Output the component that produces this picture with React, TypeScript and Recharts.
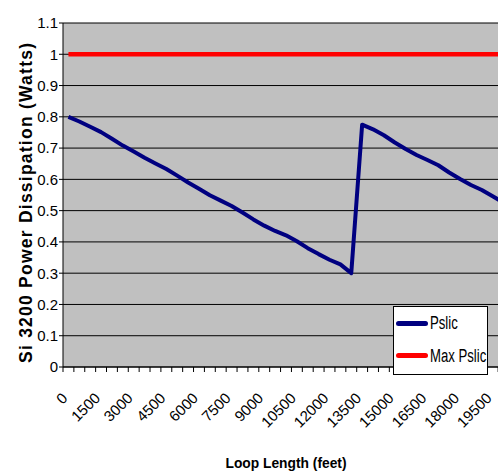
import React from 'react';
import { LineChart, Line, XAxis, YAxis, CartesianGrid, Legend } from 'recharts';

// loop length categories (feet), one every 500 ft
const LOOP_LENGTHS = [
  0, 500, 1000, 1500, 2000, 2500, 3000, 3500, 4000, 4500, 5000, 5500, 6000, 6500,
  7000, 7500, 8000, 8500, 9000, 9500, 10000, 10500, 11000, 11500, 12000, 12500,
  13000, 13500, 14000, 14500, 15000, 15500, 16000, 16500, 17000, 17500, 18000,
  18500, 19000, 19500, 20000,
];

// Si 3200 power dissipation (W)
const PSLIC = [
  0.8, 0.785, 0.768, 0.751, 0.73, 0.708, 0.689, 0.669, 0.651, 0.633, 0.612, 0.59,
  0.57, 0.549, 0.532, 0.515, 0.494, 0.472, 0.452, 0.435, 0.421, 0.402, 0.38, 0.361,
  0.343, 0.328, 0.3, 0.775, 0.76, 0.741, 0.718, 0.697, 0.678, 0.662, 0.645, 0.622,
  0.601, 0.582, 0.566, 0.546, 0.525,
];

const MAX_PSLIC = 1;

const X_LABELS = [
  0, 1500, 3000, 4500, 6000, 7500, 9000, 10500, 12000, 13500, 15000, 16500, 18000, 19500,
];

const Y_TICKS = [0, 0.1, 0.2, 0.3, 0.4, 0.5, 0.6, 0.7, 0.8, 0.9, 1, 1.1];

const SERIES_ORDER = ['pslic', 'maxPslic'];

const FONT = '"Liberation Sans", Arial, sans-serif';

const data = LOOP_LENGTHS.map((len, i) => ({
  idx: i,
  len,
  pslic: PSLIC[i],
  maxPslic: MAX_PSLIC,
}));

// Excel style category axis: tick marks between categories, labels on them
const boundaryTicks = LOOP_LENGTHS.map((_, i) => i - 0.5).concat(LOOP_LENGTHS.length - 0.5);
const labelTicks = X_LABELS.map((v) => LOOP_LENGTHS.indexOf(v));
const xTicks = [...boundaryTicks, ...labelTicks].sort((a, b) => a - b);

const XTick = ({ x, y, payload }: any) => {
  const v = payload.value;
  if (!Number.isInteger(v)) {
    return <line x1={x} x2={x} y1={y} y2={y + 5} stroke="#000" />;
  }
  const ly = y + 32;
  return (
    <text
      x={x}
      y={ly}
      transform={`rotate(-45 ${x} ${ly})`}
      textAnchor="end"
      fontSize={15}
      fontFamily={FONT}
      fill="#000"
    >
      {LOOP_LENGTHS[v]}
    </text>
  );
};

const YTitle = ({ viewBox }: any) => {
  const x = viewBox.x + 32;
  const y = viewBox.y + viewBox.height / 2 + 8;
  return (
    <text
      x={x}
      y={y}
      transform={`rotate(-90 ${x} ${y})`}
      textAnchor="middle"
      fontSize={17.5}
      fontWeight="bold"
      fontFamily={FONT}
      fill="#000"
      textLength={320}
      lengthAdjust="spacing"
    >
      Si 3200 Power Dissipation (Watts)
    </text>
  );
};

const XTitle = ({ viewBox }: any) => {
  const x = viewBox.x + viewBox.width / 2;
  const y = viewBox.y + 100.5;
  return (
    <text
      x={x}
      y={y}
      textAnchor="middle"
      fontSize={15}
      fontWeight="bold"
      fontFamily={FONT}
      fill="#000"
      textLength={121}
      lengthAdjust="spacingAndGlyphs"
    >
      Loop Length (feet)
    </text>
  );
};

const renderLegend = (props: any) => {
  const items = [...(props.payload || [])].sort(
    (a: any, b: any) => SERIES_ORDER.indexOf(a.dataKey) - SERIES_ORDER.indexOf(b.dataKey),
  );
  return (
    <div
      style={{
        position: 'relative',
        width: 95,
        height: 69,
        boxSizing: 'border-box',
        border: '1px solid #000',
        background: '#fff',
        fontFamily: FONT,
      }}
    >
      {items.map((entry: any, i: number) => (
        <div
          key={entry.value}
          style={{
            position: 'absolute',
            left: 2,
            top: 6 + i * 32.5,
            height: 20,
            display: 'flex',
            alignItems: 'center',
            whiteSpace: 'nowrap',
          }}
        >
          <span
            style={{
              display: 'inline-block',
              width: 32,
              height: 5,
              borderRadius: 2.5,
              background: entry.color,
            }}
          />
          <span
            style={{
              display: 'inline-block',
              marginLeft: 2,
              fontSize: 18,
              lineHeight: '20px',
              color: '#000',
              transform: 'scaleX(0.73)',
              transformOrigin: 'left center',
            }}
          >
            {entry.value}
          </span>
        </div>
      ))}
    </div>
  );
};

export default function App() {
  return (
    <div
      style={{
        position: 'absolute',
        left: 0,
        top: 0,
        width: 498,
        height: 472,
        overflow: 'hidden',
        background: '#fff',
      }}
    >
      <LineChart
        width={509}
        height={472}
        data={data}
        margin={{ top: 23, right: 0, bottom: 0, left: 0 }}
      >
        <CartesianGrid vertical={false} stroke="#000" fill="#C0C0C0" />
        <XAxis
          dataKey="idx"
          type="number"
          scale="linear"
          domain={[-0.5, LOOP_LENGTHS.length - 0.5]}
          ticks={xTicks}
          interval={0}
          tick={<XTick />}
          tickLine={false}
          tickSize={0}
          tickMargin={0}
          height={105}
          axisLine={{ stroke: '#000' }}
          label={XTitle}
        />
        <YAxis
          domain={[0, 1.1]}
          ticks={Y_TICKS}
          interval={0}
          width={63}
          tickSize={4}
          tickMargin={1}
          tick={{ fontSize: 15, fill: '#000', fontFamily: FONT }}
          tickLine={{ stroke: '#000' }}
          axisLine={{ stroke: '#000' }}
          label={YTitle}
        />
        <Legend
          layout="horizontal"
          align="center"
          verticalAlign="middle"
          wrapperStyle={{ position: 'absolute', left: 393, top: 306, width: 95, height: 69 }}
          content={renderLegend}
        />
        <Line
          type="linear"
          dataKey="pslic"
          name="Pslic"
          stroke="#000080"
          strokeWidth={4}
          strokeLinejoin="round"
          dot={false}
          isAnimationActive={false}
        />
        <Line
          type="linear"
          dataKey="maxPslic"
          name="Max Pslic"
          stroke="#FF0000"
          strokeWidth={4.5}
          dot={false}
          isAnimationActive={false}
        />
      </LineChart>
    </div>
  );
}
